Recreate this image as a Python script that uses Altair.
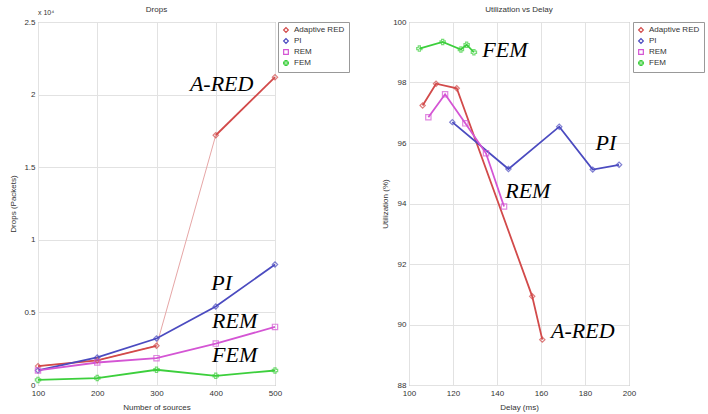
import altair as alt
import pandas as pd

series = ["Adaptive RED", "PI", "REM", "FEM"]
colors = ["#d24a4a", "#4b4bc0", "#d455d4", "#3ccf3c"]
shapes = ["diamond", "diamond", "square", "cross"]

# Left: Drops (x 10^4 packets)
sources = [100, 200, 300, 400, 500]
drops_ared = [0.13, 0.17, 0.27, 1.72, 2.12]
drops_pi = [0.10, 0.19, 0.32, 0.54, 0.83]
drops_rem = [0.10, 0.155, 0.185, 0.285, 0.40]
drops_fem = [0.035, 0.048, 0.105, 0.063, 0.10]

# Right: Utilization vs Delay
ared_delay = [106.2, 112.3, 121.7, 156.0, 160.6]
ared_util = [97.24, 97.96, 97.81, 90.93, 89.5]
pi_delay = [119.7, 145.2, 168.3, 183.5, 195.5]
pi_util = [96.69, 95.14, 96.54, 95.12, 95.28]
rem_delay = [108.8, 116.4, 125.6, 135.0, 143.2]
rem_util = [96.85, 97.61, 96.65, 95.66, 93.9]
fem_delay = [104.7, 115.3, 123.6, 126.2, 129.5]
fem_util = [99.12, 99.34, 99.09, 99.25, 99.0]

left_labels = ["A-RED", "PI", "REM", "FEM"]
left_lab_x = [410, 410, 432, 432]
left_lab_y = [2.07, 0.70, 0.44, 0.21]
right_labels = ["FEM", "PI", "REM", "A-RED"]
right_lab_x = [143.6, 189.5, 154, 179]
right_lab_y = [99.06, 96.0, 94.42, 89.8]

FONT = "Liberation Sans"

rows = []
for name, vals in zip(series, [drops_ared, drops_pi, drops_rem, drops_fem]):
    for i, (s, v) in enumerate(zip(sources, vals)):
        seg = name + ("_a" if (name == "Adaptive RED" and i <= 2) else "_b")
        rows.append({"series": name, "x": s, "y": v, "i": i, "seg": seg})
dl = pd.DataFrame(rows)

rows = []
for name, xs, ys in zip(series, [ared_delay, pi_delay, rem_delay, fem_delay],
                        [ared_util, pi_util, rem_util, fem_util]):
    for i, (a, b) in enumerate(zip(xs, ys)):
        rows.append({"series": name, "x": a, "y": b, "i": i})
dr = pd.DataFrame(rows)


def legend(x):
    return alt.Legend(title=None, orient="none", legendX=x, legendY=0,
                      strokeColor="#999", fillColor="white", padding=4,
                      labelFontSize=8, labelFont=FONT, rowPadding=1, labelColor="#333",
                      symbolSize=22, symbolStrokeWidth=1.2)


shape = alt.Shape("series:N", scale=alt.Scale(domain=series, range=shapes), legend=None)
color_nl = alt.Color("series:N", scale=alt.Scale(domain=series, range=colors), legend=None)

axis_common = dict(labelFont=FONT, labelFontSize=8, labelColor="#333", titleFont=FONT,
                   titleFontSize=8, titleFontWeight="normal", titleColor="#333",
                   gridColor="#e2e2e2", domain=False, ticks=False, tickSize=0,
                   labelOverlap=False, labelFlush=False)


def text_label(txt, x, y, size=8, align="center"):
    return alt.Chart(pd.DataFrame({"t": [txt]})).mark_text(
        font=FONT, fontSize=size, color="#333", align=align, baseline="middle").encode(
        x=alt.value(x), y=alt.value(y), text="t:N")


# ---- Left chart ----
W1, H1 = 237, 363
xl = alt.X("x:Q", scale=alt.Scale(domain=[100, 500], nice=False),
           axis=alt.Axis(title="Number of sources", values=list(range(100, 501, 50)),
                         labelPadding=4, titlePadding=6, **axis_common))
yl = alt.Y("y:Q", scale=alt.Scale(domain=[0, 2.5], nice=False),
           axis=alt.Axis(title="Drops (Packets)", values=[0, 0.5, 1, 1.5, 2, 2.5], format="~g",
                         labelPadding=3, titlePadding=6, **axis_common))

thin = alt.Chart(dl[dl.series == "Adaptive RED"]).mark_line(strokeWidth=1, color="#e6a6a6").encode(
    x=xl, y=yl, order="i:Q")
lines_l = alt.Chart(dl).mark_line(strokeWidth=1.8).encode(
    x=xl, y=yl, color=alt.Color("series:N", scale=alt.Scale(domain=series, range=colors),
                                legend=legend(W1 + 3)),
    detail="seg:N", order="i:Q")
pts_l = alt.Chart(dl).mark_point(size=28, filled=False, strokeWidth=1.2).encode(
    x=xl, y=yl, color=color_nl, shape=shape)
ann_l = alt.Chart(pd.DataFrame({"t": left_labels, "x": left_lab_x, "y": left_lab_y})).mark_text(
    font="Liberation Serif", fontStyle="italic", fontSize=22, color="black").encode(
    x="x:Q", y="y:Q", text="t:N")

left = alt.layer(thin, lines_l, pts_l, ann_l,
                 text_label("x 10⁴", 0, -9, size=7, align="left"),
                 text_label("Drops", W1 / 2, -12)).properties(width=W1, height=H1)

# ---- Right chart ----
W2, H2 = 220, 363
xr = alt.X("x:Q", scale=alt.Scale(domain=[100, 200], nice=False),
           axis=alt.Axis(title="Delay (ms)", values=list(range(100, 201, 20)),
                         labelPadding=4, titlePadding=6, **axis_common))
yr = alt.Y("y:Q", scale=alt.Scale(domain=[88, 100], nice=False),
           axis=alt.Axis(title="Utilization (%)", values=list(range(88, 101, 2)),
                         labelPadding=3, titlePadding=3, **axis_common))
lines_r = alt.Chart(dr).mark_line(strokeWidth=1.8).encode(
    x=xr, y=yr, color=alt.Color("series:N", scale=alt.Scale(domain=series, range=colors),
                                legend=legend(W2 + 4)),
    detail="series:N", order="i:Q")
pts_r = alt.Chart(dr).mark_point(size=28, filled=False, strokeWidth=1.2).encode(
    x=xr, y=yr, color=color_nl, shape=shape)
ann_r = alt.Chart(pd.DataFrame({"t": right_labels, "x": right_lab_x, "y": right_lab_y})).mark_text(
    font="Liberation Serif", fontStyle="italic", fontSize=22, color="black").encode(
    x="x:Q", y="y:Q", text="t:N")

right = alt.layer(lines_r, pts_r, ann_r,
                  text_label("Utilization vs Delay", W2 / 2, -12)).properties(width=W2, height=H2)

chart = alt.hconcat(left, right, spacing=31).resolve_scale(color="independent", shape="independent").properties(
    padding={"left": 9, "top": 5, "right": 3, "bottom": 0}
).configure_view(stroke="#999", strokeWidth=1)

chart.save("out.html", embed_options={"renderer": "svg", "actions": False})
